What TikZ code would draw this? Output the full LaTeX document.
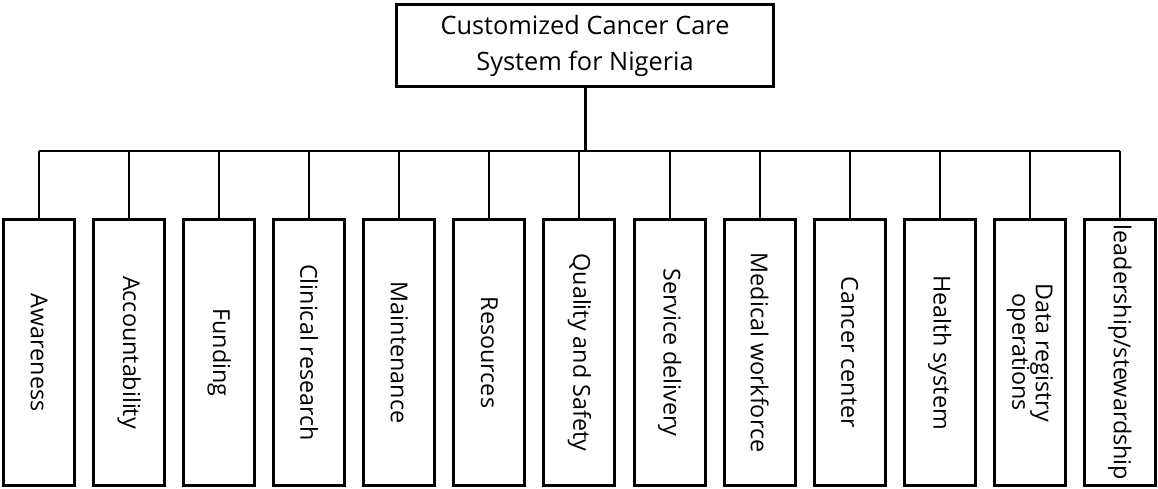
\documentclass[tikz,border=0pt]{standalone}
\usepackage{fontspec}
\setmainfont{Open Sans}
\usetikzlibrary{positioning}

\begin{document}
\begin{tikzpicture}[
  x=0.75pt, y=-0.75pt,
  topbox/.style={draw, line width=2.25pt, minimum width=377*0.75pt, minimum height=82*0.75pt,
    align=center, inner sep=0pt, font=\fontsize{19}{27}\selectfont},
  catbox/.style={draw, line width=2.25pt, rotate=-90, minimum width=266*0.75pt, minimum height=71*0.75pt,
    align=center, inner sep=0pt, font=\fontsize{17.5}{17.5}\selectfont},
  stem/.style={line width=2.25pt},
  link/.style={line width=1.5pt}]
  \useasboundingbox (0,0) rectangle (1158,489);
  \node[topbox] (root) at (585,45.5) {Customized Cancer Care\\System for Nigeria};
  \coordinate (bus) at (585,151);
  % one box per care area
  \foreach \lbl [count=\i] in {Awareness, Accountability, Funding, Clinical research, Maintenance,
    Resources, Quality and Safety, Service delivery, Medical workforce, Cancer center,
    Health system, {Data registry\\operations}, leadership/stewardship}
    \node[catbox] (c\i) at ({39+90.08*(\i-1)},352.5) {\lbl};
  \draw[stem] (root.south) -- (bus);
  \draw[link] (c1.west |- bus) -- (c13.west |- bus);
  \foreach \i in {1,...,13}
    \draw[link] (c\i.west |- bus) -- (c\i.west);
\end{tikzpicture}
\end{document}
